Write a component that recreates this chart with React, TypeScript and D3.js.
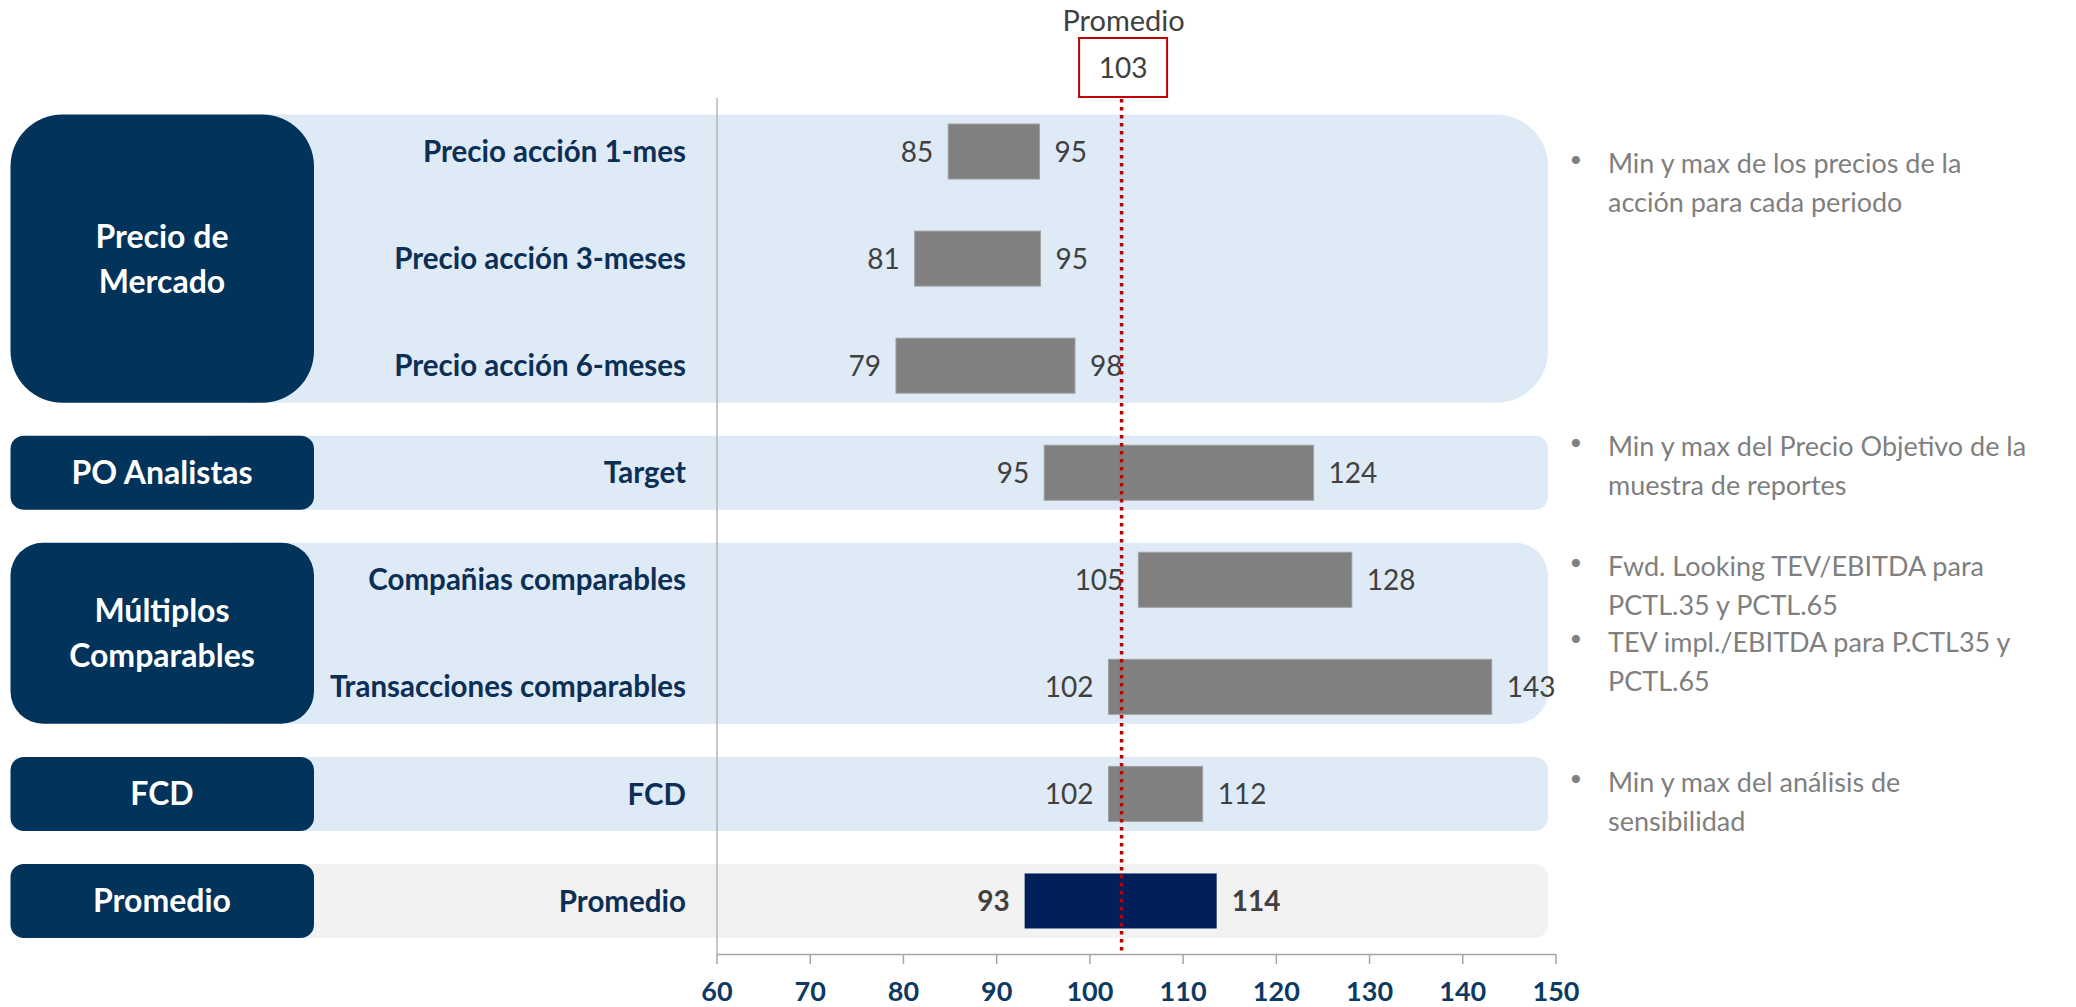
import React from "react";
import * as d3 from "d3";

const rows = [
  "Precio acción 1-mes",
  "Precio acción 3-meses",
  "Precio acción 6-meses",
  "Target",
  "Compañias comparables",
  "Transacciones comparables",
  "FCD",
  "Promedio",
];
const minValues = [84.8, 81.2, 79.2, 95.1, 105.2, 102.0, 102.0, 93.0];
const maxValues = [94.6, 94.7, 98.4, 124.0, 128.1, 143.1, 112.1, 113.6];
const groupNames = [["Precio de", "Mercado"], ["PO Analistas"], ["Múltiplos", "Comparables"], ["FCD"], ["Promedio"]];
const groupStart = [0, 3, 4, 6, 7];
const groupEnd = [2, 3, 5, 6, 7];
const ticks = [60, 70, 80, 90, 100, 110, 120, 130, 140, 150];
const averageLine = 103.4;
const averageLabel = "103";
const notes = [
  { lines: ["Min y max de los precios de la", "acción para cada periodo"] },
  { lines: ["Min y max del Precio Objetivo de la", "muestra de reportes"] },
  { lines: ["Fwd. Looking TEV/EBITDA para", "PCTL.35 y PCTL.65"] },
  { lines: ["TEV impl./EBITDA para P.CTL35 y", "PCTL.65"] },
  { lines: ["Min y max del análisis de", "sensibilidad"] },
];
const noteY = [163, 446, 566, 642, 782];

const FONT = "Lato, 'Noto Sans', sans-serif";
const NAVY = "#02335A";
const LABEL_NAVY = "#0C2F56";
const fmt = d3.format(".0f");

export default function App() {
  const W = 2076, H = 1007;
  const x = d3.scaleLinear().domain([60, 150]).range([717, 1556]);
  const y = d3.scaleBand<string>().domain(rows).range([98, 954.5]).paddingInner(0.486).paddingOuter(0.243);
  const bw = y.bandwidth();
  const cy = (i: number) => (y(rows[i]) as number) + bw / 2;

  return (
    <svg width={W} height={H} style={{ position: "absolute", left: 0, top: 0, background: "#fff" }} fontFamily={FONT}>
      {groupNames.map((g, gi) => {
        const top = cy(groupStart[gi]) - 37;
        const bot = cy(groupEnd[gi]) + 37;
        const h = bot - top;
        const r = h * 0.18;
        const isAvg = gi === groupNames.length - 1;
        const midY = (top + bot) / 2;
        return (
          <g key={gi}>
            <rect x={200} y={top} width={1548 - 200} height={h} rx={r} ry={r} fill={isAvg ? "#F2F2F2" : "#DEEAF6"} />
            <rect x={10.5} y={top} width={303.5} height={h} rx={r} ry={r} fill={NAVY} />
            {g.map((line, li) => (
              <text key={li} x={162} y={midY + (li - (g.length - 1) / 2) * 45} dy="0.36em" textAnchor="middle"
                fill="#fff" fontWeight={700} fontSize={32}>{line}</text>
            ))}
          </g>
        );
      })}

      <line x1={717} x2={717} y1={98} y2={954.5} stroke="#A6A6A6" strokeWidth={1.2} />

      {rows.map((r, i) => {
        const isAvg = i === rows.length - 1;
        const x0 = x(minValues[i]), x1 = x(maxValues[i]);
        return (
          <g key={r}>
            <text x={686} y={cy(i)} dy="0.36em" textAnchor="end" fill={LABEL_NAVY} fontWeight={700} fontSize={29.5}>{r}</text>
            <rect x={x0} y={y(r)} width={x1 - x0} height={bw} fill={isAvg ? "#001F5B" : "#808080"}
              stroke={isAvg ? "none" : "#A0A0A0"} strokeWidth={1} />
            <text x={x0 - 15} y={cy(i)} dy="0.36em" textAnchor="end" fill="#404040" fontSize={28} fontWeight={isAvg ? 700 : 400}>{fmt(minValues[i])}</text>
            <text x={x1 + 15} y={cy(i)} dy="0.36em" textAnchor="start" fill="#404040" fontSize={28} fontWeight={isAvg ? 700 : 400}>{fmt(maxValues[i])}</text>
          </g>
        );
      })}

      <line x1={717} x2={1556} y1={954.5} y2={954.5} stroke="#A6A6A6" strokeWidth={1.5} />
      {ticks.map((t) => (
        <g key={t}>
          <line x1={x(t)} x2={x(t)} y1={954.5} y2={964} stroke="#A6A6A6" strokeWidth={1.5} />
          <text x={x(t)} y={1001} fill="#0D3A63" textAnchor="middle" fontWeight={700} fontSize={27}>{t}</text>
        </g>
      ))}

      <line x1={x(averageLine)} x2={x(averageLine)} y1={99} y2={952} stroke="#C00000" strokeWidth={3.5} strokeDasharray="3.4 4.6" />
      <text x={x(averageLine) + 2} y={21} dy="0.36em" textAnchor="middle" fill="#404040" fontSize={29}>Promedio</text>
      <rect x={x(averageLine) - 42.5} y={38} width={88} height={59} fill="#fff" stroke="#C00000" strokeWidth={2} />
      <text x={x(averageLine) + 1.5} y={68} dy="0.36em" textAnchor="middle" fill="#404040" fontSize={28}>{averageLabel}</text>

      {notes.map((n, ni) => (
        <g key={ni}>
          <text x={1576} y={noteY[ni] - 4} dy="0.36em" textAnchor="middle" fill="#808080" fontSize={22}>•</text>
          {n.lines.map((l, li) => (
            <text key={li} x={1608} y={noteY[ni] + li * 39} dy="0.36em" fill="#7F7F7F" fontSize={27}>{l}</text>
          ))}
        </g>
      ))}
    </svg>
  );
}
